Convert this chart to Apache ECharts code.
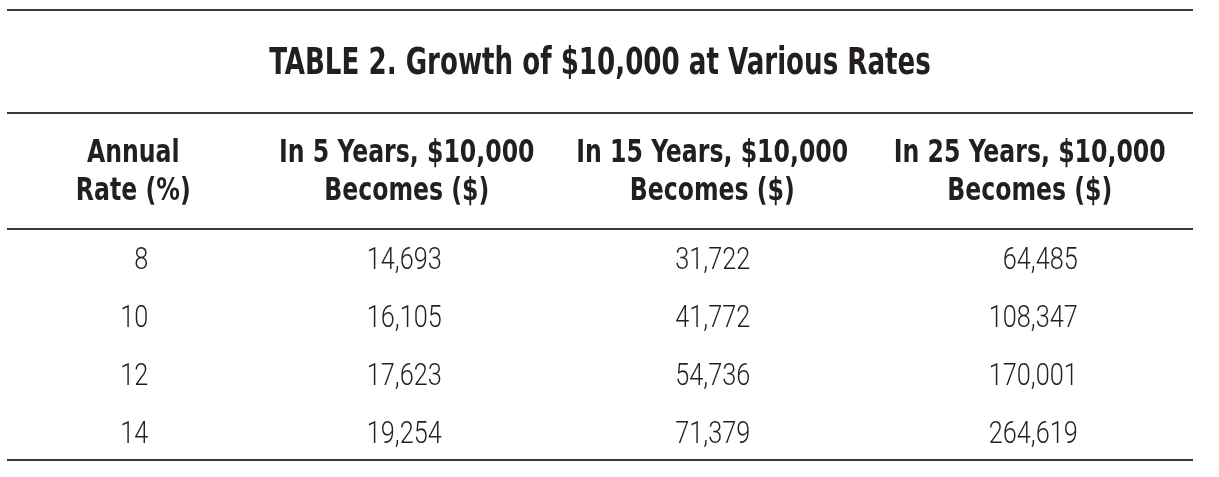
<!DOCTYPE html>
<html><head><meta charset="utf-8">
<script src="https://cdn.jsdelivr.net/npm/echarts@6/dist/echarts.min.js"></script>
<style>html,body{margin:0;padding:0;background:#fff}#c{width:1219px;height:477px}</style>
</head><body><div id="c"></div>
<script>
// ---- data ----
const titleText = 'TABLE 2. Growth of $10,000 at Various Rates';
const columns = ['rate', 'in5', 'in15', 'in25'];
const headerLine1 = ['Annual', 'In 5 Years, $10,000', 'In 15 Years, $10,000', 'In 25 Years, $10,000'];
const headerLine2 = ['Rate (%)', 'Becomes ($)', 'Becomes ($)', 'Becomes ($)'];
const rowKeys = ['r8', 'r10', 'r12', 'r14'];
const rates = [8, 10, 12, 14];
const in5Years = [14693, 16105, 17623, 19254];
const in15Years = [31722, 41772, 54736, 71379];
const in25Years = [64485, 108347, 170001, 264619];

// ---- build ----
const valueCols = [rates, in5Years, in15Years, in25Years];
const cells = [];
valueCols.forEach((arr, c) => arr.forEach((v, r) => cells.push([c, r, v])));
const headCells = [];
headerLine1.forEach((t, c) => headCells.push([c, 0, t]));
headerLine2.forEach((t, c) => headCells.push([c, 1, t]));

const FONT_BODY = "Roboto, 'DejaVu Sans Condensed', sans-serif";
const FONT_HEAD = "'DejaVu Sans Condensed', 'DejaVu Sans', sans-serif";
const INK = '#231f20';
const headDx = [-22, -45, -36, -15];
const dataDx = [-7, -10, 2, 33];
const fmt = v => Number(v).toLocaleString('en-US');

const chart = echarts.init(document.getElementById('c'), null, {renderer: 'canvas'});
const hidden = {show: false};
chart.setOption({
  animation: false,
  backgroundColor: '#fff',
  grid: [
    {left: 7, right: 26, top: 232, height: 232},
    {left: 7, right: 26, top: 135, height: 76}
  ],
  xAxis: [
    {type: 'category', data: columns, gridIndex: 0, axisLine: hidden, axisTick: hidden, axisLabel: hidden, splitLine: hidden},
    {type: 'category', data: columns, gridIndex: 1, axisLine: hidden, axisTick: hidden, axisLabel: hidden, splitLine: hidden}
  ],
  yAxis: [
    {type: 'category', data: rowKeys, inverse: true, gridIndex: 0, axisLine: hidden, axisTick: hidden, axisLabel: hidden, splitLine: hidden},
    {type: 'category', data: ['l1', 'l2'], inverse: true, gridIndex: 1, axisLine: hidden, axisTick: hidden, axisLabel: hidden, splitLine: hidden}
  ],
  series: [
    {
      type: 'custom', xAxisIndex: 0, yAxisIndex: 0, data: cells,
      renderItem: (params, api) => {
        const c = api.value(0), r = api.value(1);
        const p = api.coord([c, r]);
        return {
          type: 'text', x: p[0] + dataDx[c], y: p[1], scaleX: 0.79,
          style: {text: fmt(api.value(2)), fontFamily: FONT_BODY, fontWeight: 300, fontSize: 32, fill: INK,
                  align: 'right', verticalAlign: 'middle', textAlign: 'right', textVerticalAlign: 'middle'}
        };
      }
    },
    {
      type: 'custom', xAxisIndex: 1, yAxisIndex: 1, data: headCells,
      dimensions: ['c', 'r', {name: 't', type: 'ordinal'}],
      renderItem: (params, api) => {
        const d = headCells[params.dataIndex];
        const p = api.coord([d[0], d[1]]);
        return {
          type: 'text', x: p[0] + headDx[d[0]], y: p[1], scaleX: 0.82,
          style: {text: d[2], fontFamily: FONT_HEAD, fontWeight: 'bold', fontSize: 32, fill: INK,
                  align: 'center', verticalAlign: 'middle', textAlign: 'center', textVerticalAlign: 'middle'}
        };
      }
    }
  ],
  graphic: [
    {
      type: 'text', x: 600, y: 64, scaleX: 0.785, silent: true,
      style: {text: titleText, fontFamily: FONT_HEAD, fontWeight: 'bold', fontSize: 37, fill: INK,
              align: 'center', verticalAlign: 'middle', textAlign: 'center', textVerticalAlign: 'middle'}
    }
  ].concat([10, 113, 229, 460].map(y => ({
    type: 'line', shape: {x1: 7, y1: y, x2: 1193, y2: y},
    style: {stroke: '#3a3a3a', lineWidth: 2}, silent: true
  })))
});
</script></body></html>
